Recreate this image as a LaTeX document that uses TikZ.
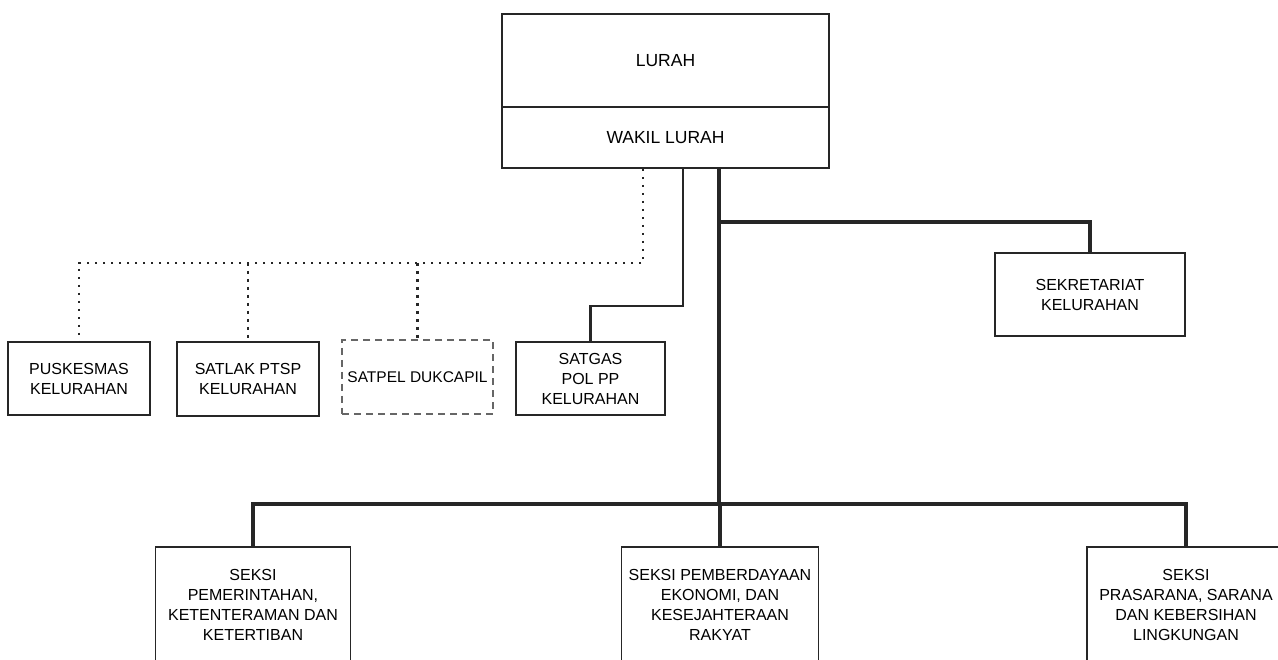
\documentclass[tikz,border=0pt]{standalone}
\usepackage{fontspec}
\setmainfont{Liberation Sans}
\usepackage{tikz}
\usetikzlibrary{calc}

\begin{document}
\begin{tikzpicture}[x=1pt,y=-1pt,
        unit/.style={rectangle, draw=black!85, line width=1.6pt, align=center, inner sep=1pt,
            font=\fontsize{16}{20}\selectfont},
        unitdash/.style={unit, draw=black!60, dashed, dash pattern=on 7pt off 5pt},
        head/.style={unit, minimum width=327pt, font=\fontsize{17.5}{20}\selectfont},
        dotline/.style={draw=black!85, line width=2.6pt, dash pattern=on 2.6pt off 5.4pt},
        thinline/.style={draw=black!85, line width=2.2pt},
        mainline/.style={draw=black!85, line width=3.5pt},
        ]
        \useasboundingbox[fill=white] (0,0) rectangle (1278,660);

        \node (lurah) at (665.5,60.5) [head, minimum height=93pt] {LURAH};
        \node (wakil) at (665.5,137.5) [head, minimum height=61pt] {WAKIL LURAH};

        \node (puskesmas) at (79,378.5) [unit, minimum width=142pt, minimum height=73pt] {PUSKESMAS\\KELURAHAN};
        \node (satlak) at (248,379) [unit, minimum width=142pt, minimum height=74pt] {SATLAK PTSP\\KELURAHAN};
        \node (satpel) at (417.5,377) [unitdash, minimum width=151pt, minimum height=74pt, inner sep=0pt,
            font=\fontsize{15.5}{20}\selectfont] {SATPEL DUKCAPIL};
        \node (satgas) at (590.5,378.5) [unit, minimum width=149pt, minimum height=73pt] {SATGAS\\POL PP\\KELURAHAN};
        \node (sekretariat) at (1090,294.5) [unit, minimum width=190pt, minimum height=83pt] {SEKRETARIAT\\KELURAHAN};

        \node (seksiA) at (253,605) [unit, minimum width=195pt, minimum height=116pt] {SEKSI\\PEMERINTAHAN,\\KETENTERAMAN DAN\\KETERTIBAN};
        \node (seksiB) at (720,605) [unit, minimum width=197pt, minimum height=116pt] {SEKSI PEMBERDAYAAN\\EKONOMI, DAN\\KESEJAHTERAAN\\RAKYAT};
        \node (seksiC) at (1186,605) [unit, minimum width=198pt, minimum height=116pt] {SEKSI\\PRASARANA, SARANA\\DAN KEBERSIHAN\\LINGKUNGAN};

        \coordinate (dotEnd) at (643,263);
        \coordinate (satgasBend) at (683,306);
        \coordinate (sekBranch) at (719,222);
        \coordinate (mainBot) at (719,504);

        % koordinasi
        \draw[dotline] (wakil.south -| dotEnd) -- (dotEnd) -| (puskesmas.north);
        \draw[dotline] (dotEnd -| satlak.north) -- (satlak.north);
        \draw[dotline] (dotEnd -| satpel.north) -- (satpel.north);

        \draw[thinline] (wakil.south -| satgasBend) -- (satgasBend) -| (satgas.north);

        % garis komando
        \draw[mainline] (wakil.south -| mainBot) -- (mainBot);
        \draw[mainline] (sekBranch) -| (sekretariat.north);
        \draw[mainline] (seksiA.north) -- (seksiA.north |- mainBot) -- (seksiC.north |- mainBot) -- (seksiC.north);
        \draw[mainline] (seksiB.north) -- (seksiB.north |- mainBot);

    \end{tikzpicture}
\end{document}
